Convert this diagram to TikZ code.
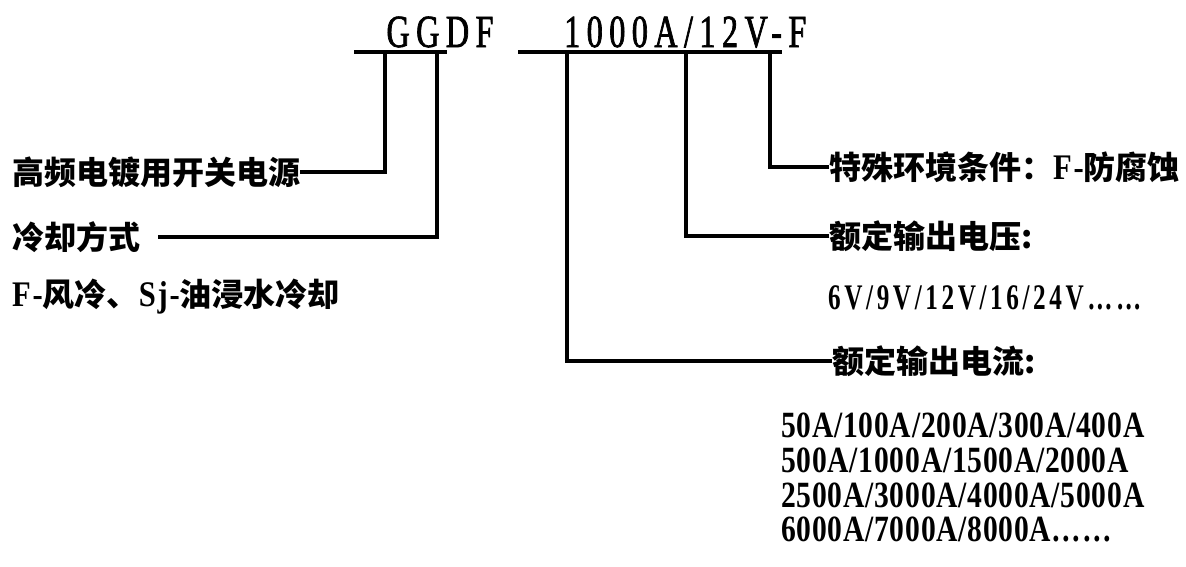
\documentclass[tikz,border=0pt]{standalone}
\usepackage{fontspec}
\usepackage{tikz}
\newfontfamily\cjk{Noto Sans CJK SC}
\newfontfamily\titlefont{Liberation Serif}[FakeStretch=0.7, LetterSpace=14, FakeBold=1.5]
\newfontfamily\numfont{Liberation Serif}[FakeStretch=0.8, LetterSpace=2]
\newfontfamily\latfont{Liberation Serif}[FakeStretch=0.85, LetterSpace=5]
\newfontfamily\voltfont{Liberation Serif}[FakeStretch=0.7, LetterSpace=10]

\begin{document}
\begin{tikzpicture}[
    x=1pt, y=-1pt,
    lead/.style={line width=3.2pt},
    title/.style={inner sep=0pt, font={\titlefont\fontsize{46}{46}\selectfont}},
    lab/.style={inner sep=0pt, font={\cjk\bfseries\fontsize{32}{38}\selectfont}},
    vals/.style={inner sep=0pt, font={\numfont\bfseries\fontsize{37}{37}\selectfont}},
    volt/.style={inner sep=0pt, font={\voltfont\bfseries\fontsize{36}{36}\selectfont}},
]
\useasboundingbox (0,0) rectangle (1186,566);

\node[title, anchor=base] (t1) at (440,47) {GGDF};
\node[title, anchor=base west] (t2) at (564,47) {1000A/12V-F};

\coordinate (u1) at (354,52);
\coordinate (u2) at (447,52);
\coordinate (u3) at (518,52);
\coordinate (u4) at (782,52);
\coordinate (k1) at (385,52);
\coordinate (k2) at (437,52);
\coordinate (k3) at (567,52);
\coordinate (k4) at (686,52);
\coordinate (k5) at (770,52);

\node[lab, anchor=west] (l1) at (12,172) {高频电镀用开关电源};
\node[lab, anchor=west] (l2) at (12,237) {冷却方式};
\node[lab, anchor=west] (l3) at (12,297)
   {{\latfont\fontsize{36}{38}\selectfont F-}风冷、{\latfont\fontsize{36}{38}\selectfont Sj-}油浸水冷却};

\node[lab, anchor=west] (r1) at (829,167)
   {特殊环境条件：{\latfont\fontsize{36}{38}\selectfont F-}防腐蚀};
\node[lab, anchor=west] (r2) at (829,236) {额定输出电压:};
\node[volt, anchor=base west] (r3) at (828,309) {6V/9V/12V/16/24V……};
\node[lab, anchor=west] (r4) at (832,361) {额定输出电流:};

\node[vals, anchor=base west] (c1) at (781,437) {50A/100A/200A/300A/400A};
\node[vals, anchor=base west] (c2) at (781,472) {500A/1000A/1500A/2000A};
\node[vals, anchor=base west] (c3) at (781,507) {2500A/3000A/4000A/5000A};
\node[vals, anchor=base west] (c4) at (781,541) {6000A/7000A/8000A……};

\draw[lead] (u1) -- (u2);
\draw[lead] (u3) -- (u4);
\draw[lead] (k1) |- (l1.east);
\draw[lead] (k2) |- ([xshift=18pt]l2.east);
\draw[lead] (k3) |- (r4.west);
\draw[lead] (k4) |- (r2.west);
\draw[lead] (k5) |- (r1.west);

\end{tikzpicture}
\end{document}
